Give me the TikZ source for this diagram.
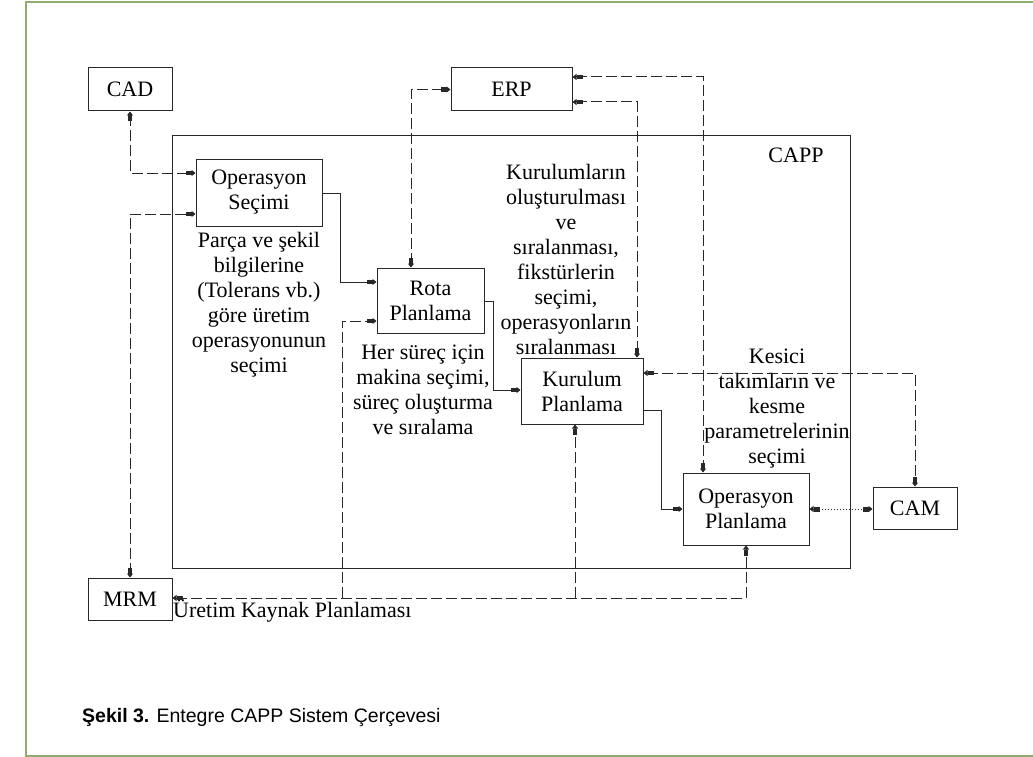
\documentclass[tikz,border=0pt]{standalone}
\usepackage{fontspec}
\setmainfont{Liberation Serif}
\newfontfamily\capfont{Liberation Sans}
\usetikzlibrary{arrows.meta,calc}
\definecolor{framegreen}{RGB}{145,172,110}
\definecolor{ink}{RGB}{40,40,40}
\tikzset{
  box/.style={draw=ink, line width=1pt, align=center, inner sep=0pt,
              font=\fontsize{22}{25}\selectfont},
  note/.style={align=center, inner sep=0pt, font=\fontsize{22}{25}\selectfont},
  flow/.style={draw=ink, line width=1pt},
  link/.style={flow, dash pattern=on 11pt off 4pt},
  dotlink/.style={flow, line width=0.7pt, dash pattern=on 1pt off 2pt},
  headend/.style={-{Square[length=6pt,width=4.5pt]Triangle[length=4pt,width=6pt]}},
  headboth/.style={{Triangle[length=4pt,width=6pt]Square[length=6pt,width=4.5pt]}-{Square[length=6pt,width=4.5pt]Triangle[length=4pt,width=6pt]}},
}
\begin{document}
\begin{tikzpicture}[x=1pt,y=-1pt]
\useasboundingbox (0,0) rectangle (1033,757);
\fill[white] (0,0) rectangle (1033,757);

% page frame
\draw[framegreen, line width=2pt] (1033,2) -- (26,2) -- (26,756) -- (1033,756);

% CAPP boundary
\node[draw=ink, line width=1pt, minimum width=678pt, minimum height=432pt, inner sep=0pt] (capp) at (511,352) {};
\node[note] (capplabel) at (796,155) {CAPP};

% external systems
\node[box, minimum width=84pt, minimum height=43pt] (cad) at (130,89.5) {CAD};
\node[box, minimum width=121pt, minimum height=43pt] (erp) at (511.5,89.5) {ERP};
\node[box, minimum width=84pt, minimum height=42pt] (cam) at (915,508) {CAM};
\node[box, minimum width=84pt, minimum height=42pt] (mrm) at (130,599) {MRM};

% planning stages
\node[box, minimum width=126pt, minimum height=67pt] (ops) at (259,192.5) {Operasyon\\Seçimi};
\node[box, minimum width=107pt, minimum height=65pt] (rota) at (430.5,300.5) {Rota\\Planlama};
\node[box, minimum width=122pt, minimum height=66pt] (kur) at (582,391) {Kurulum\\Planlama};
\node[box, minimum width=126pt, minimum height=72pt] (opp) at (746,509) {Operasyon\\Planlama};

% stage descriptions
\node[note] (opsnote) at (259,304.5) {Parça ve şekil\\bilgilerine\\(Tolerans vb.)\\göre üretim\\operasyonunun\\seçimi};
\node[note] (rotanote) at (423,389.5) {Her süreç için\\makina seçimi,\\süreç oluşturma\\ve sıralama};
\node[note] (kurnote) at (566,259) {Kurulumların\\oluşturulması\\ve\\sıralanması,\\fikstürlerin\\seçimi,\\operasyonların\\sıralanması};
\node[note] (oppnote) at (777,408.5) {Kesici\\takımların ve\\kesme\\parametrelerinin\\seçimi};
\node[note, anchor=west] (mrmnote) at (173,611) {Üretim Kaynak Planlaması};

% solid flow between stages
\draw[flow,headend] (ops.east |- 0,193) -| (340,282) -- (rota.west |- 0,282);
\draw[flow,headend] (rota.east |- 0,301) -| (493,390) -- (kur.west |- 0,390);
\draw[flow,headend] (kur.east |- 0,410) -| (661,509) -- (opp.west |- 0,509);

% information links
\draw[link,headboth] (cad.south) |- (ops.west |- 0,173);
\draw[link,headboth] (mrm.north) |- (ops.west |- 0,214);
\draw[link,headboth] (411,0 |- rota.north) |- (erp.west);
\draw[link,headboth] (erp.east |- 0,77) -| (703,0 |- opp.north);
\draw[link,headboth] (erp.east |- 0,102) -| (637,0 |- kur.north);
\draw[link,headboth] (kur.east |- 0,373) -| (cam.north);
\draw[dotlink,headboth] (opp.east |- 0,509) -- (cam.west |- 0,509);

% resource planning bus
\coordinate (busrota) at (342,598);
\coordinate (buskur) at (575,598);
\draw[link,headboth] (mrm.east |- 0,598) -| (746,0 |- opp.south);
\draw[link,headend] (busrota) |- (rota.west |- 0,321);
\draw[link,headend] (buskur) -- (575,0 |- kur.south);

% caption
\node[anchor=west, inner sep=0pt, font=\capfont\fontsize{19.5}{22}\selectfont] (caption) at (82,717)
  {\textbf{Şekil 3.} Entegre CAPP Sistem Çerçevesi};
\end{tikzpicture}
\end{document}
